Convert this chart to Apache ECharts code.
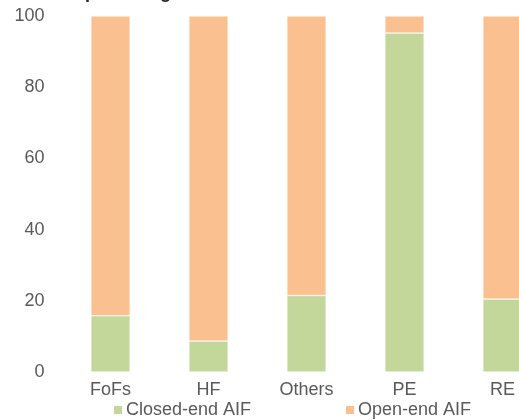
<!DOCTYPE html>
<html><head><meta charset="utf-8">
<script src="https://cdn.jsdelivr.net/npm/echarts@6/dist/echarts.min.js"></script>
<style>html,body{margin:0;padding:0;background:#fff}#c{width:519px;height:420px}</style>
</head><body><div id="c"></div>
<script>
const categories = ['FoFs', 'HF', 'Others', 'PE', 'RE'];
const closedEnd = [15.8, 8.7, 21.5, 95.2, 20.5];
const openEnd = [84.2, 91.3, 78.5, 4.8, 79.5];
const yTicks = [0, 20, 40, 60, 80, 100];

const chart = echarts.init(document.getElementById('c'), null, {renderer: 'canvas'});
const font = 'Liberation Sans, Arial, sans-serif';
chart.setOption({
  animation: false,
  title: {text: 'Share in percentage', left: 4, top: -21, textStyle: {fontFamily: font, fontSize: 18, fontWeight: 'bold', color: '#262626'}},
  grid: {left: 61.5, width: 490, top: 16, bottom: 48, containLabel: false, outerBoundsMode: 'none'},
  xAxis: {type: 'category', data: categories,
    axisLine: {show: false}, axisTick: {show: false},
    axisLabel: {color: '#595959', fontFamily: font, fontSize: 18, margin: 9}},
  yAxis: {type: 'value', min: yTicks[0], max: yTicks[yTicks.length-1], interval: 20,
    splitLine: {show: false}, axisLine: {show: false}, axisTick: {show: false},
    axisLabel: {color: '#595959', fontFamily: font, fontSize: 18, margin: 17}},
  legend: [
    {data: ['Closed-end AIF'], left: 107, top: 396, icon: 'rect', itemWidth: 10, itemHeight: 10, itemGap: 4,
      textStyle: {color: '#595959', fontFamily: font, fontSize: 18, padding: [0,0,0,-2]}},
    {data: ['Open-end AIF'], left: 339, top: 396, icon: 'rect', itemWidth: 10, itemHeight: 10,
      textStyle: {color: '#595959', fontFamily: font, fontSize: 18, padding: [0,0,0,-2]}}
  ],
  series: [
    {name: 'Closed-end AIF', type: 'bar', stack: 's', data: closedEnd, barWidth: '40%',
      itemStyle: {color: '#C4D79B', borderColor: '#ffffff', borderWidth: 0.5}},
    {name: 'Open-end AIF', type: 'bar', stack: 's', data: openEnd, barWidth: '40%',
      itemStyle: {color: '#FAC090', borderColor: '#ffffff', borderWidth: 0.5}}
  ]
});
</script></body></html>
